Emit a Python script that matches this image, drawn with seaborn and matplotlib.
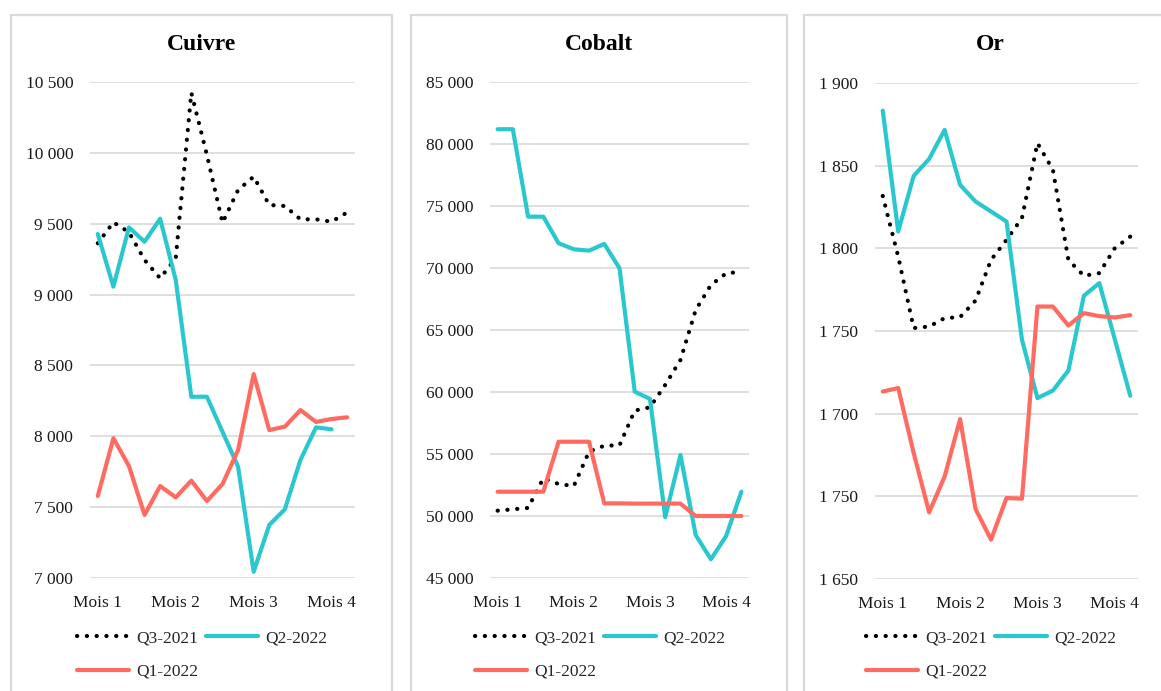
import numpy as np
import pandas as pd
import matplotlib
matplotlib.use("Agg")
import matplotlib.pyplot as plt
from matplotlib.patches import Rectangle
import seaborn as sns

# ---- data -------------------------------------------------------------
weeks = list(range(17))
month_ticks = [0, 5, 10, 15]
month_labels = ["Mois 1", "Mois 2", "Mois 3", "Mois 4"]
series_names = ["Q3-2021", "Q2-2022", "Q1-2022"]

cuivre_q3_2021 = [9362, 9510, 9440, 9244, 9115, 9256, 10424, 9985, 9507, 9738,
                  9832, 9632, 9625, 9531, 9531, 9514, 9580]
cuivre_q2_2022 = [9427, 9056, 9474, 9373, 9535, 9103, 8279, 8279, 8032, 7785,
                  7044, 7374, 7485, 7833, 8063, 8049, np.nan]
cuivre_q1_2022 = [7579, 7986, 7790, 7445, 7649, 7569, 7687, 7543, 7663, 7903,
                  8439, 8044, 8068, 8185, 8101, 8122, 8134]

cobalt_q3_2021 = [50430, 50540, 50650, 53040, 52580, 52420, 55190, 55670, 55700, 58500,
                  58770, 60570, 62580, 66610, 68630, 69570, 69700]
cobalt_q2_2022 = [81190, 81190, 74140, 74140, 72000, 71510, 71400, 71940, 69980, 60030,
                  59440, 49900, 54920, 48470, 46510, 48390, 51960]
cobalt_q1_2022 = [51960, 51960, 51960, 51960, 55990, 55990, 55990, 51020, 51020, 51000,
                  51000, 51000, 51000, 50000, 50000, 50000, 50000]

or_q3_2021 = [1831.7, 1795.0, 1751.8, 1752.7, 1757.8, 1758.4, 1768.4, 1793.0, 1805.1, 1818.3,
              1863.6, 1847.5, 1793.0, 1783.4, 1785.0, 1800.1, 1807.1]
or_q2_2022 = [1883.3, 1810.2, 1843.8, 1854.1, 1871.6, 1838.4, 1828.3, 1822.3, 1816.2, 1744.7,
              1709.4, 1714.0, 1726.1, 1771.3, 1779.0, 1745.0, 1710.8]
or_q1_2022 = [1713.4, 1715.5, 1676.2, 1640.3, 1662.0, 1696.7, 1642.3, 1623.8, 1649.0, 1648.6,
              1764.8, 1764.8, 1753.3, 1760.8, 1759.0, 1758.2, 1759.6]

cuivre_ticks = [7000, 7500, 8000, 8500, 9000, 9500, 10000, 10500]
cuivre_tick_labels = ["7 000", "7 500", "8 000", "8 500", "9 000", "9 500", "10 000", "10 500"]
cobalt_ticks = [45000, 50000, 55000, 60000, 65000, 70000, 75000, 80000, 85000]
cobalt_tick_labels = ["45 000", "50 000", "55 000", "60 000", "65 000", "70 000",
                      "75 000", "80 000", "85 000"]
or_ticks = [1600, 1650, 1700, 1750, 1800, 1850, 1900]
or_tick_labels = ["1 650", "1 750", "1 700", "1 750", "1 800", "1 850", "1 900"]

panel_titles = ["Cuivre", "Cobalt", "Or"]

# ---- style ------------------------------------------------------------
sns.set_theme(style="white")
plt.rcParams["font.family"] = ["Liberation Serif", "DejaVu Serif"]

W, H = 1161, 691
fig = plt.figure(figsize=(W / 100, H / 100), dpi=100)
fig.patch.set_facecolor("white")

COL_Q3 = "#000000"
COL_Q2 = "#2BC7CF"
COL_Q1 = "#FF6B61"
GRID = "#D9D9D9"


def px_axes(left, top, right, bottom):
    return [left / W, 1 - bottom / H, (right - left) / W, (bottom - top) / H]


panels = [
    dict(box=(10.5, 15, 392, 720), axes=(90, 82, 355, 578),
         data=(cuivre_q3_2021, cuivre_q2_2022, cuivre_q1_2022),
         ticks=cuivre_ticks, labels=cuivre_tick_labels, legend_x=77),
    dict(box=(410.5, 15, 787, 720), axes=(490, 82, 749, 578),
         data=(cobalt_q3_2021, cobalt_q2_2022, cobalt_q1_2022),
         ticks=cobalt_ticks, labels=cobalt_tick_labels, legend_x=475),
    dict(box=(804.5, 15, 1176, 720), axes=(875, 83, 1138, 579),
         data=(or_q3_2021, or_q2_2022, or_q1_2022),
         ticks=or_ticks, labels=or_tick_labels, legend_x=866),
]

for title, p in zip(panel_titles, panels):
    bx0, by0, bx1, by1 = p["box"]
    fig.patches.append(Rectangle((bx0 / W, 1 - by1 / H), (bx1 - bx0) / W, (by1 - by0) / H,
                                 transform=fig.transFigure, fill=False,
                                 edgecolor=GRID, linewidth=1.6, zorder=0))
    fig.text((bx0 + bx1) / 2 / W, 1 - 45 / H, title,
             ha="center", va="center", fontsize=17, fontweight="bold", color="#000000")

    ax = fig.add_axes(px_axes(*p["axes"]))
    q3, q2, q1 = p["data"]
    df = pd.DataFrame({"semaine": weeks, "Q3-2021": q3, "Q2-2022": q2, "Q1-2022": q1})

    sns.lineplot(data=df, x="semaine", y="Q3-2021", ax=ax, color=COL_Q3, linewidth=3.0,
                 linestyle=(0, (0.05, 2.3)), dash_capstyle="round", label="Q3-2021")
    sns.lineplot(data=df, x="semaine", y="Q2-2022", ax=ax, color=COL_Q2, linewidth=3.0,
                 solid_capstyle="round", solid_joinstyle="round", label="Q2-2022")
    sns.lineplot(data=df, x="semaine", y="Q1-2022", ax=ax, color=COL_Q1, linewidth=3.0,
                 solid_capstyle="round", solid_joinstyle="round", label="Q1-2022")

    ax.set_xlim(-0.5, 16.5)
    ax.set_ylim(p["ticks"][0], p["ticks"][-1])
    ax.set_yticks(p["ticks"])
    ax.set_yticklabels(p["labels"])
    ax.set_xticks(month_ticks)
    ax.set_xticklabels(month_labels)
    ax.set_xlabel("")
    ax.set_ylabel("")
    ax.grid(axis="y", color=GRID, linewidth=1.2)
    ax.set_axisbelow(True)
    for s in ax.spines.values():
        s.set_visible(False)
    ax.tick_params(axis="y", length=0, pad=12, labelsize=12.5, labelcolor="#1a1a1a")
    ax.tick_params(axis="x", length=0, pad=12, labelsize=12.5, labelcolor="#1a1a1a")
    ax.set_facecolor("none")

    handles, labs = ax.get_legend_handles_labels()
    order = [labs.index(n) for n in ["Q3-2021", "Q1-2022", "Q2-2022"]]
    ax.legend([handles[i] for i in order], [labs[i] for i in order],
              loc="upper left", bbox_to_anchor=(p["legend_x"] / W, 1 - 630 / H),
              bbox_transform=fig.transFigure, ncol=2, frameon=False,
              fontsize=12.5, borderpad=0, borderaxespad=0, handlelength=3.0,
              handletextpad=0.4, columnspacing=0.45, labelspacing=1.0)

fig.savefig("out.png", dpi=100, facecolor="white")
